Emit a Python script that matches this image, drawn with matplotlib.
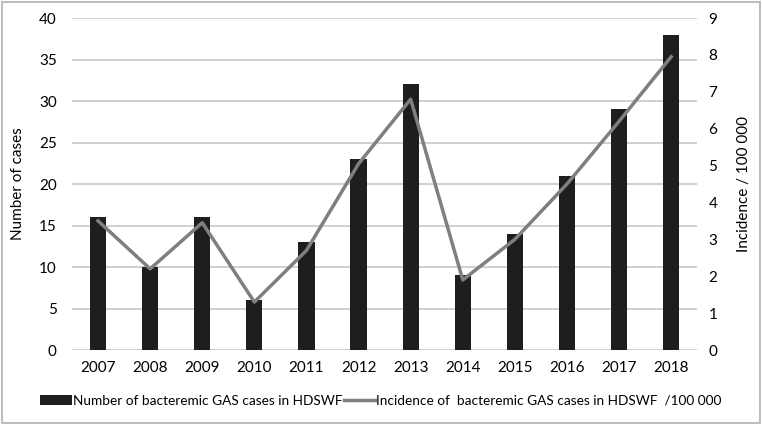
import numpy as np
import matplotlib.pyplot as plt
from matplotlib.patches import Rectangle

years = ['2007', '2008', '2009', '2010', '2011', '2012',
         '2013', '2014', '2015', '2016', '2017', '2018']
cases = [16, 10, 16, 6, 13, 23, 32, 9, 14, 21, 29, 38]
incidence = [3.5, 2.2, 3.45, 1.3, 2.7, 5.05, 6.8, 1.9, 3.0, 4.5, 6.2, 7.95]

plt.rcParams['font.family'] = ['Lato', 'DejaVu Sans']

fig = plt.figure(figsize=(7.62, 4.24), dpi=100)
ax = fig.add_axes([0.0945, 0.1745, 0.8205, 0.783])
x = np.arange(len(years))

bars = ax.bar(x, cases, width=0.31, color='#1e1e1e', zorder=3,
              label='Number of bacteremic GAS cases in HDSWF')
ax.set_ylim(0, 40)
ax.set_yticks(range(0, 41, 5))
ax.set_xlim(-0.5, len(years) - 0.5)
ax.set_xticks(x)
ax.set_xticklabels(years)
ax.grid(axis='y', color='#c8c8c8', linewidth=1.2, zorder=0)
for s in ax.spines.values():
    s.set_visible(False)
ax.tick_params(length=0, labelsize=11, pad=8)
ax.tick_params(axis='y', pad=11)
ax.set_ylabel('Number of cases', fontsize=11, labelpad=10)

ax2 = ax.twinx()
line, = ax2.plot(x, incidence, color='#7f7f7f', linewidth=2.5, zorder=4,
                 label='Incidence of  bacteremic GAS cases in HDSWF  /100 000')
ax2.set_ylim(0, 9)
ax2.set_yticks(range(0, 10))
for s in ax2.spines.values():
    s.set_visible(False)
ax2.tick_params(length=0, labelsize=11, pad=8)
ax2.set_ylabel('Incidence / 100 000', fontsize=11, labelpad=14)

fig.legend([bars, line], [bars.get_label(), line.get_label()],
           loc='center', bbox_to_anchor=(0.5, 0.055), ncol=2, frameon=False,
           fontsize=9.8, handlelength=2.3, handletextpad=0.1, columnspacing=0.1)

fig.add_artist(Rectangle((0.002, 0.003), 0.995, 0.993, transform=fig.transFigure,
                         fill=False, edgecolor='#bdbdbd', linewidth=1.5))

fig.savefig('out.png', dpi=100)
